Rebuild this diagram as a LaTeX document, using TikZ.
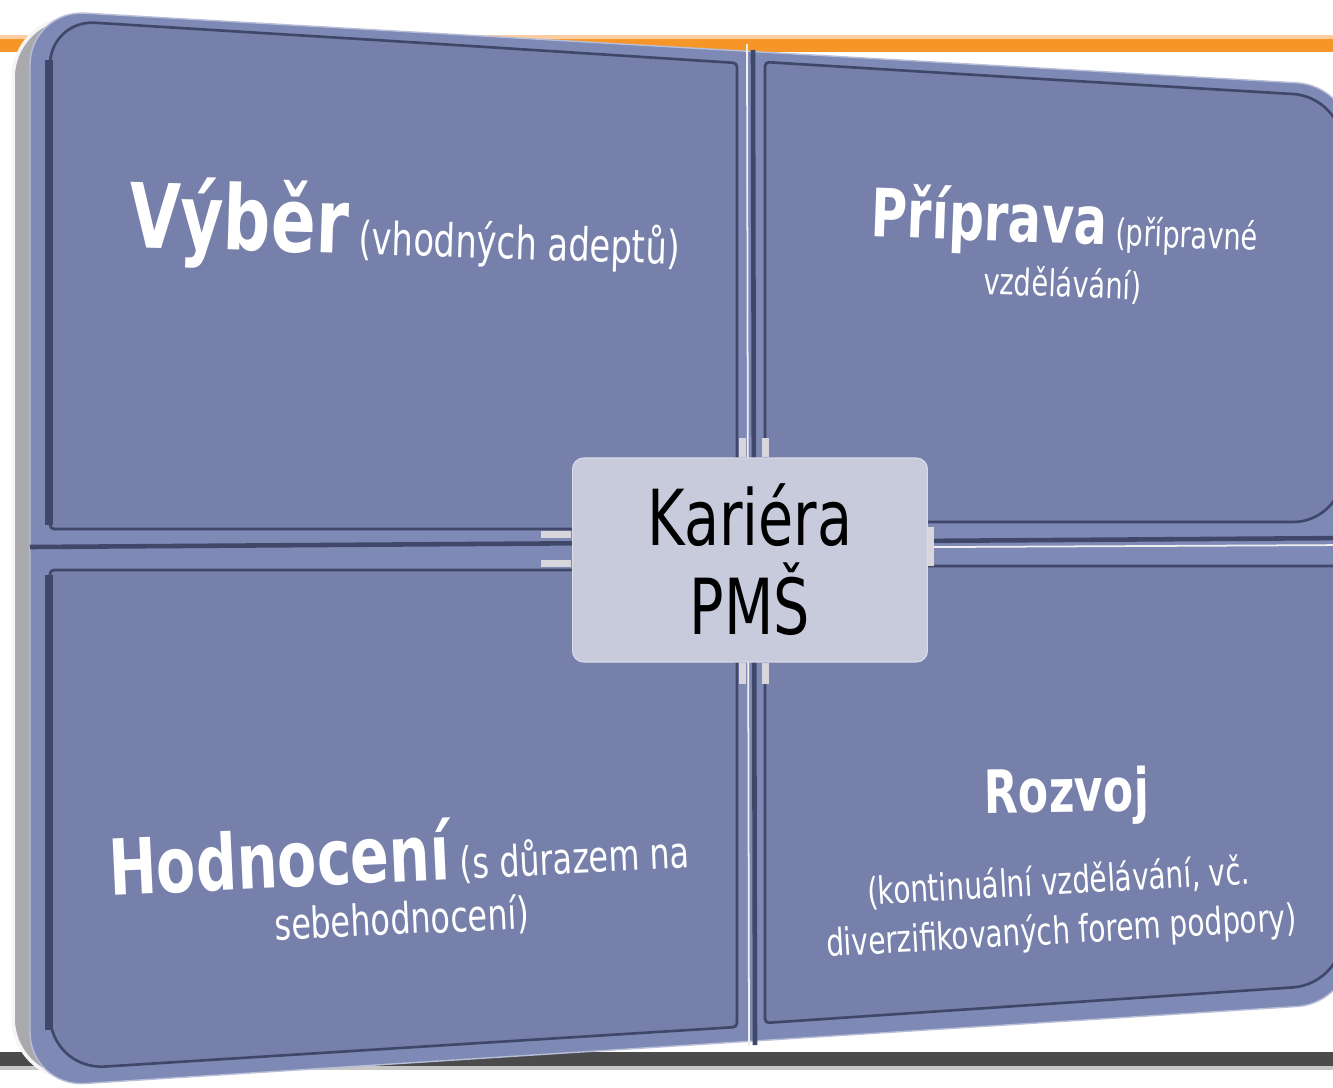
\documentclass[tikz,border=0pt]{standalone}
\usepackage{fontspec}
\setmainfont{DejaVu Sans}
\usepackage{graphicx}
\usetikzlibrary{positioning}

\definecolor{slabface}{RGB}{118,128,170}
\definecolor{slabrim}{RGB}{126,137,182}
\definecolor{slabdark}{RGB}{64,71,104}
\definecolor{slabside}{RGB}{170,170,174}
\definecolor{boxfill}{RGB}{200,203,220}
\definecolor{stubgray}{RGB}{214,214,220}
\definecolor{barorange}{RGB}{247,150,40}
\definecolor{barorangelight}{RGB}{251,205,160}
\definecolor{bargray}{RGB}{75,75,75}

\tikzset{
	panel/.style={fill=slabface, draw=slabdark, line width=1.5pt},
	paneltext/.style={text=white, inner sep=0pt, xscale=\squeeze},
	groove/.style={draw=slabdark, line width=2.6pt},
	glint/.style={draw=white!88!gray, line width=1pt}
}

\begin{document}
\begin{tikzpicture}[x=0.02cm, y=-0.02cm]

\pgfmathsetmacro{\squeeze}{0.74}
\pgfmathsetmacro{\midx}{750}
\pgfmathsetmacro{\midy}{560}

\useasboundingbox (0,0) rectangle (1333,1088);
\clip (0,0) rectangle (1333,1088);

% BARS
\fill[barorangelight] (0,35) rectangle (1333,39);
\fill[barorange] (0,39) rectangle (1333,52);
\fill[bargray] (0,1052) rectangle (1333,1066);
\fill[black!22] (0,1066) rectangle (1333,1070);

% SLAB
\draw[fill=slabside, draw=white!92!gray, line width=2pt, rounded corners=1.3cm]
	(13,500) -- (13,14) -- (1340,90) -- (1340,1000) -- (13,1082) -- cycle;
\draw[fill=slabrim, draw=slabrim!55!white, line width=0.8pt, rounded corners=1.1cm]
	(30,500) -- (30,10) -- (1352,86) -- (1352,1003) -- (30,1087) -- cycle;

% GROOVES
\draw[groove] (753,50) -- (755,1045);
\draw[glint] (747,44) -- (749,1046);
\draw[groove] (30,547) -- (1352,538);
\draw[glint] (748,548) -- (1352,545);

% PANELS
\draw[panel] (50,300) [rounded corners=0.9cm] -- (50,20) -- (400,41.5)
	[rounded corners=0.08cm] -- (737,63) -- (737,529) -- (50,529) -- cycle;
\draw[panel] (765,300) [rounded corners=0.08cm] -- (765,62) -- (1050,79.5)
	[rounded corners=1cm] -- (1343,97) -- (1343,522) [rounded corners=0.08cm] -- (765,522) -- cycle;
\draw[panel] (50,800) [rounded corners=0.08cm] -- (50,570) -- (737,570) -- (737,1027)
	-- (400,1048) [rounded corners=1.1cm] -- (50,1070) -- cycle;
\draw[panel] (765,800) [rounded corners=0.08cm] -- (765,566) [rounded corners=0.08cm]
	-- (1343,566) [rounded corners=1cm] -- (1343,984) [rounded corners=0.08cm] -- (765,1023) -- cycle;
\draw[slabdark, line width=4pt] (49,60) -- (49,525);
\draw[slabdark, line width=4pt] (49,575) -- (49,1030);

% STUBS round the centre box
\fill[stubgray] (541,531) rectangle (571,538);
\fill[stubgray] (541,560) rectangle (571,567);
\fill[stubgray] (739,438) rectangle (746,457);
\fill[stubgray] (762,438) rectangle (769,457);
\fill[stubgray] (739,663) rectangle (746,684);
\fill[stubgray] (762,663) rectangle (769,684);
\fill[stubgray] (928,527) rectangle (934,566);

% NODES

\node(kariera)[fill=boxfill, draw=boxfill!70!white, line width=0.6pt,
			rounded corners=0.22cm,
			minimum width=7.1cm,
			minimum height=4.08cm,
			inner sep=0pt, align=center,
			font=\fontsize{44}{50.6}\selectfont]  at (\midx,\midy)
			{\scalebox{\squeeze}[1]{Kariéra}\\\scalebox{\squeeze}[1]{PMŠ}};

\node(vyber)[rotate=-1.8, paneltext, anchor=base west,
			font=\fontsize{26}{32}\selectfont]  at (128,247)
			{{\fontsize{51}{60}\selectfont\bfseries Výběr} (vhodných adeptů)};

\node(priprava)[rotate=-2.1, paneltext, align=center,
			font=\fontsize{21}{30.5}\selectfont]  at (1064,246)
			{{\fontsize{38}{44}\selectfont\bfseries Příprava} (přípravné\\vzdělávání)};

\node(hodnoceni)[rotate=2.7, paneltext, align=center,
			font=\fontsize{24.5}{30}\selectfont]  at (400,880)
			{{\fontsize{44}{50}\selectfont\bfseries Hodnocení} (s důrazem na\\sebehodnocení)};

\node(rozvoj)[rotate=0.8, paneltext, anchor=base,
			font=\fontsize{34}{40}\selectfont\bfseries]  at (1067,812) {Rozvoj};

\node(rozvojtext)[rotate=3.2, paneltext, align=center,
			font=\fontsize{21.5}{28}\selectfont]  at (1060,908)
			{(kontinuální vzdělávání, vč.\\diverzifikovaných forem podpory)};

\end{tikzpicture}
\end{document}
